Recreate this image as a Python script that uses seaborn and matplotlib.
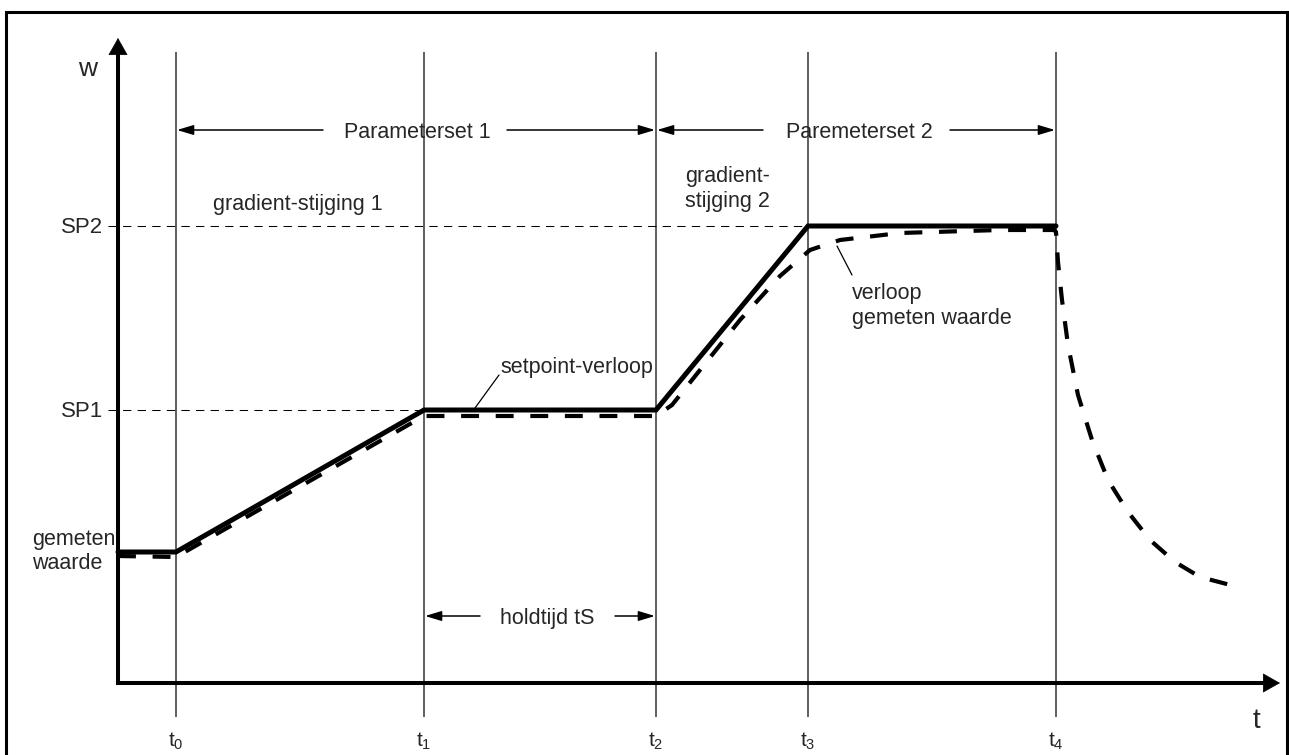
import matplotlib
matplotlib.use("Agg")
import matplotlib.pyplot as plt
import seaborn as sns

# ---------------- data (diagram units: t to the right, w upwards) ----------------
t_ticks = [58, 306, 538, 690, 938]
t_labels = [r"$\mathrm{t_0}$", r"$\mathrm{t_1}$", r"$\mathrm{t_2}$", r"$\mathrm{t_3}$", r"$\mathrm{t_4}$"]
sp_levels = [273, 457]
sp_labels = ["SP1", "SP2"]
sp_ends = [306, 690]

setpoint_t = [0, 58, 306, 538, 690, 938]
setpoint_w = [131, 131, 273, 273, 457, 457]

measured_t = [0, 58, 306, 538, 554, 582, 622, 662, 692, 722, 782, 882, 936, 938,
              940, 944, 950, 960, 974, 990, 1010, 1032, 1057, 1082, 1120]
measured_w = [127, 126, 267, 267, 278, 313, 363, 407, 433, 443, 450, 453, 453, 451,
              421, 383, 338, 288, 243, 203, 171, 143, 121, 106, 96]

# ---------------- style ----------------
sns.set_theme(style="white")
plt.rcParams["font.family"] = ["Liberation Sans", "DejaVu Sans"]
plt.rcParams["mathtext.fontset"] = "custom"
plt.rcParams["mathtext.rm"] = "Liberation Sans"
plt.rcParams["mathtext.it"] = "Liberation Sans"

fig = plt.figure(figsize=(12.89, 7.55), dpi=100)
ax = fig.add_axes([0, 0, 1, 1])
ax.set_xlim(-118, 1171)
ax.set_ylim(-72, 683)
ax.axis("off")

# frame
ax.plot([-112, -112, 1169, 1169], [-90, 671, 671, -90], color="black", lw=2.2,
        solid_joinstyle="miter", clip_on=False)

# vertical time lines
ax.vlines(t_ticks, -34, 631, color="#333333", lw=1.1)

# reference dashed lines for setpoints
for lev, end in zip(sp_levels, sp_ends):
    ax.plot([-10, end], [lev, lev], color="black", lw=0.75, linestyle=(0, (8, 6)))

# axes with arrows
ax.plot([-1.5, 1148], [0, 0], color="black", lw=2.9, solid_capstyle="butt")
ax.plot([0, 0], [-1.5, 630], color="black", lw=2.9, solid_capstyle="butt")
ax.annotate("", xy=(1162, 0), xytext=(1140, 0),
            arrowprops=dict(arrowstyle="-|>,head_length=1.15,head_width=0.65",
                            lw=0.5, color="black", shrinkA=0, shrinkB=0, mutation_scale=10))
ax.annotate("", xy=(0, 645), xytext=(0, 623),
            arrowprops=dict(arrowstyle="-|>,head_length=1.15,head_width=0.65",
                            lw=0.5, color="black", shrinkA=0, shrinkB=0, mutation_scale=10))

# curves
sns.lineplot(x=measured_t, y=measured_w, ax=ax, color="black", lw=3.0, sort=False,
             estimator=None, linestyle=(0, (4.3, 4.0)), legend=False)
sns.lineplot(x=setpoint_t, y=setpoint_w, ax=ax, color="black", lw=3.6, sort=False,
             estimator=None, solid_joinstyle="miter", legend=False)

# small dimension arrows
def dim_arrow(x_from, x_to, y):
    ax.annotate("", xy=(x_to, y), xytext=(x_from, y),
                arrowprops=dict(arrowstyle="-|>,head_length=1.0,head_width=0.3",
                                lw=1.1, color="black", shrinkA=0, shrinkB=0, mutation_scale=10))

fs = 15.5
dim_arrow(205, 59, 553)
dim_arrow(389, 537, 553)
ax.text(299.5, 545, "Parameterset 1", ha="center", va="baseline", fontsize=fs)
dim_arrow(645, 539, 553)
dim_arrow(832, 937, 553)
ax.text(741.5, 545, "Paremeterset 2", ha="center", va="baseline", fontsize=fs)
dim_arrow(362, 307, 67)
dim_arrow(497, 537, 67)
ax.text(429.5, 59, "holdtijd tS", ha="center", va="baseline", fontsize=fs)

# labels
ax.text(95, 473, "gradient-stijging 1", ha="left", va="baseline", fontsize=fs)
ax.text(567, 501, "gradient-", ha="left", va="baseline", fontsize=fs)
ax.text(567, 476, "stijging 2", ha="left", va="baseline", fontsize=fs)
ax.text(382, 310, "setpoint-verloop", ha="left", va="baseline", fontsize=fs)
ax.plot([357, 381], [275, 308], color="black", lw=0.9)
ax.text(734, 384, "verloop", ha="left", va="baseline", fontsize=fs)
ax.text(734, 359, "gemeten waarde", ha="left", va="baseline", fontsize=fs)
ax.plot([719, 734], [437, 408], color="black", lw=0.9)
ax.text(-86, 138, "gemeten", ha="left", va="baseline", fontsize=fs)
ax.text(-86, 114, "waarde", ha="left", va="baseline", fontsize=fs)

for lev, lab in zip(sp_levels, sp_labels):
    ax.text(-15, lev - 7, lab, ha="right", va="baseline", fontsize=16)

ax.text(-30, 607, "w", ha="center", va="baseline", fontsize=19)
ax.text(1138, -45, "t", ha="center", va="baseline", fontsize=20)
for tx, lab in zip(t_ticks, t_labels):
    ax.text(tx, -64, lab, ha="center", va="baseline", fontsize=15)

fig.savefig("out.png", dpi=100, facecolor="white")
